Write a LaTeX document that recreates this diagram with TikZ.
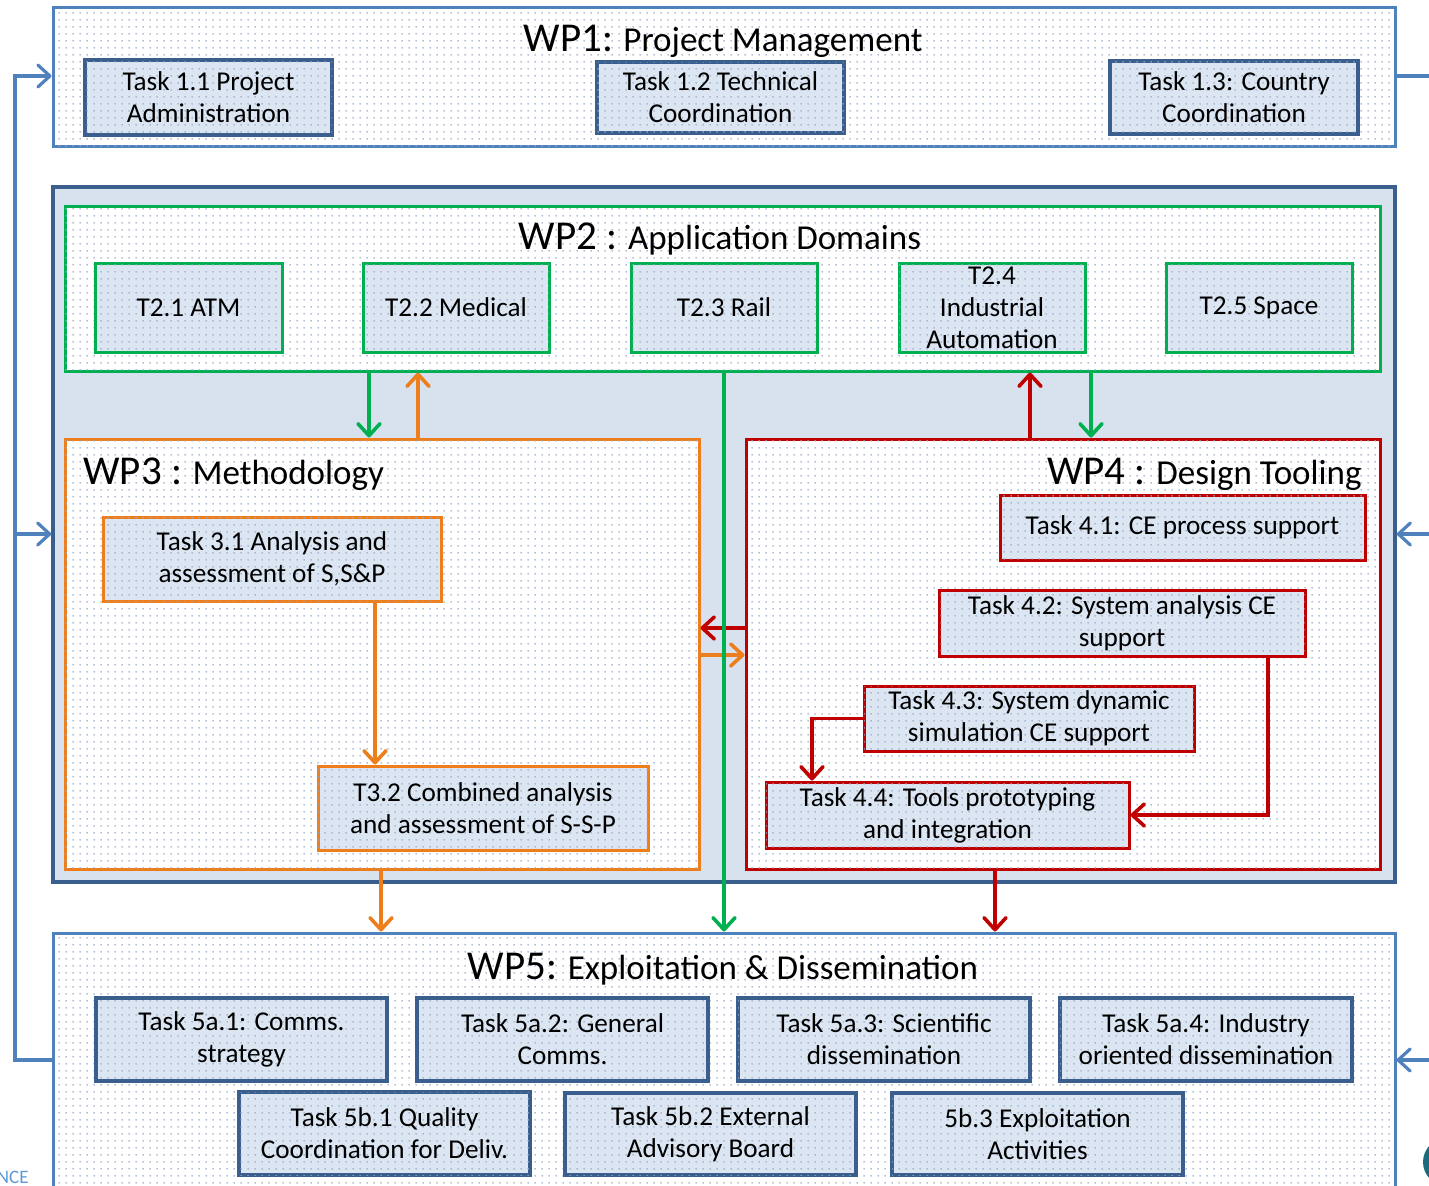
\documentclass[tikz,border=0pt]{standalone}
\usepackage{fontspec}
\setmainfont{Carlito}
\usetikzlibrary{arrows.meta,fit,patterns.meta}

\definecolor{wpblue}{HTML}{4F81BD}
\definecolor{navy}{HTML}{3A5F8E}
\definecolor{taskfill}{HTML}{DCE6F2}
\definecolor{corefill}{HTML}{D8E2EF}
\definecolor{grn}{HTML}{00B050}
\definecolor{org}{HTML}{EE7E1C}
\definecolor{rd}{HTML}{C00000}
\definecolor{dotc}{HTML}{98ABC4}
\definecolor{ncec}{HTML}{5B9BD5}
\definecolor{tealc}{HTML}{1B6A7E}

% sparse dot texture used inside the boxes
\tikzdeclarepattern{
  name=pxdots,
  type=uncolored,
  bottom left={(0pt,0pt)},
  top right={(3.5pt,3.5pt)},
  tile size={(3.5pt,3.5pt)},
  code={\fill (1.75pt,1.75pt) circle (0.5pt);}
}

\newcommand\wpbig{\fontsize{20.5}{24}\selectfont}
\newcommand\wpsmall{\fontsize{17.5}{21}\selectfont}

\tikzset{
  dotfill/.style={fill=#1, postaction={pattern=pxdots, pattern color=dotc}},
  wpbox/.style={draw=#1, line width=1.5pt, dotfill=white, inner sep=0pt},
  taskbox/.style={draw=#1, line width=1.5pt, dotfill=taskfill, inner sep=0pt},
  navytask/.style={taskbox=navy, line width=2pt},
  tasktext/.style={align=center, inner sep=0pt, font=\fontsize{13.6}{16}\selectfont},
  wptitle/.style={inner sep=0pt, font=\wpsmall},
  tiptype/.style={-{Straight Barb[length=6pt,width=11pt,round]}},
  arr/.style={draw=#1, line width=1.8pt, tiptype},
  bline/.style={draw=wpblue, line width=1.6pt},
}

% a framed task: style, name, corner pair, text (centred in the frame)
\newcommand\tbox[4]{%
  \node[#1, fit={#3}] (#2) {};
  \node[tasktext] (#2-t) at (#2.center) {#4};}

\begin{document}
\begin{tikzpicture}[x=0.5pt,y=-0.5pt]
\useasboundingbox (0,0) rectangle (1429,1185);
\clip (0,0) rectangle (1429,1185);

% ---------- WP1 ----------
\node[wpbox=wpblue, fit={(53,7)(1395,146)}] (wp1) {};
\node[wptitle] (wp1t) at (723,41) {{\wpbig WP1:} Project Management};
\tbox{navytask}{t11}{(85,60)(332,135)}{Task 1.1 Project\\Administration}
\tbox{navytask}{t12}{(597,62)(844,133)}{Task 1.2 Technical\\Coordination}
\tbox{navytask}{t13}{(1110,61)(1358,134)}{Task 1.3: Country\\Coordination}

% ---------- WP2-WP4 container ----------
\node[draw=navy, line width=1.75pt, fill=corefill, inner sep=0pt, fit={(53,187)(1395,882)}] (core) {};

% ---------- WP2 ----------
\node[wpbox=grn, fit={(65,206)(1380,371)}] (wp2) {};
\node[wptitle] (wp2t) at (720,239) {{\wpbig WP2 :} Application Domains};
\tbox{taskbox=grn}{t21}{(95,263)(282,352)}{T2.1 ATM}
\tbox{taskbox=grn}{t22}{(363,263)(549,352)}{T2.2 Medical}
\tbox{taskbox=grn}{t23}{(631,263)(817,352)}{T2.3 Rail}
\tbox{taskbox=grn}{t24}{(899,263)(1085,352)}{T2.4\\Industrial\\Automation}
\tbox{taskbox=grn}{t25}{(1166,263)(1352,352)}{T2.5 Space}

% ---------- WP3 ----------
\node[wpbox=org, fit={(65,439)(699,869)}] (wp3) {};
\node[wptitle, anchor=west] (wp3t) at (83,474) {{\wpbig WP3 :} Methodology};
\tbox{taskbox=org}{t31}{(103,517)(441,601)}{Task 3.1 Analysis and\\assessment of S,S\&P}
\tbox{taskbox=org}{t32}{(318,766)(648,850)}{T3.2 Combined analysis\\and assessment of S-S-P}

% ---------- WP4 ----------
\node[wpbox=rd, fit={(746,439)(1380,869)}] (wp4) {};
\node[wptitle, anchor=east] (wp4t) at (1362,474) {{\wpbig WP4 :} Design Tooling};
\tbox{taskbox=rd}{t41}{(1000,495)(1365,560)}{Task 4.1: CE process support}
\tbox{taskbox=rd}{t42}{(939,590)(1305,656)}{Task 4.2: System analysis CE\\support}
\tbox{taskbox=rd}{t43}{(864,686)(1194,751)}{Task 4.3: System dynamic\\simulation CE support}
\tbox{taskbox=rd}{t44}{(766,782)(1129,848)}{Task 4.4: Tools prototyping\\and integration}

% ---------- WP5 ----------
\node[wpbox=wpblue, fit={(53,933)(1395,1215)}] (wp5) {};
\node[wptitle] (wp5t) at (723,969) {{\wpbig WP5:} Exploitation \& Dissemination};
\tbox{navytask}{t5a1}{(96,998)(387,1081)}{Task 5a.1: Comms.\\strategy}
\tbox{navytask}{t5a2}{(417,998)(708,1081)}{Task 5a.2: General\\Comms.}
\tbox{navytask}{t5a3}{(738,998)(1030,1081)}{Task 5a.3: Scientific\\dissemination}
\tbox{navytask}{t5a4}{(1060,998)(1352,1081)}{Task 5a.4: Industry\\oriented dissemination}
\tbox{navytask}{t5b1}{(239,1092)(530,1175)}{Task 5b.1 Quality\\Coordination for Deliv.}
\tbox{navytask}{t5b2}{(565,1093)(856,1175)}{Task 5b.2 External\\Advisory Board}
\tbox{navytask}{t5b3}{(892,1093)(1183,1175)}{5b.3 Exploitation\\Activities}

% ---------- guide coordinates for connector columns / rows ----------
\coordinate (xa) at (369,0);
\coordinate (xb) at (418,0);
\coordinate (xc) at (1030,0);
\coordinate (xd) at (1091,0);
\coordinate (xe) at (724,0);
\coordinate (xf) at (381,0);
\coordinate (xg) at (995,0);
\coordinate (xh) at (375,0);
\coordinate (xi) at (812,0);
\coordinate (xj) at (1268,0);
\coordinate (lx) at (15,0);
\coordinate (rx) at (1432,0);
\coordinate (ya) at (0,76);
\coordinate (yb) at (0,534);
\coordinate (yc) at (0,1060);
\coordinate (yd) at (0,628);
\coordinate (ye) at (0,655);

% ---------- connectors inside the core ----------
\draw[arr=grn] (xa |- wp2.south) -- (xa |- wp3.north);
\draw[arr=org] (xb |- wp3.north) -- (xb |- wp2.south);
\draw[arr=rd]  (xc |- wp4.north) -- (xc |- wp2.south);
\draw[arr=grn] (xd |- wp2.south) -- (xd |- wp4.north);
\draw[arr=rd]  (yd -| wp4.west) -- (yd -| wp3.east);
\draw[arr=org] (ye -| wp3.east) -- (ye -| wp4.west);
\draw[arr=org] (xh |- t31.south) -- (xh |- t32.north);
\draw[arr=rd]  (t43.west) -| (xi |- t44.north);
\draw[arr=rd]  (xj |- t42.south) |- (t44.east);

% ---------- connectors to WP5 ----------
\draw[arr=grn] (xe |- wp2.south) -- (xe |- wp5.north);
\draw[arr=org] (xf |- wp3.south) -- (xf |- wp5.north);
\draw[arr=rd]  (xg |- wp4.south) -- (xg |- wp5.north);

% ---------- management feedback loops ----------
\draw[bline, tiptype] (yc -| wp5.west) -| (ya -| lx) -- (ya -| wp1.west);
\draw[bline, tiptype] (yb -| lx) -- (yb -| core.west);
\draw[bline] (ya -| wp1.east) -- (ya -| rx);
\draw[bline, tiptype] (yb -| rx) -- (yb -| core.east);
\draw[bline, tiptype] (yc -| rx) -- (yc -| wp5.east);

% ---------- page remnants at the bottom corners ----------
\node[anchor=east, inner sep=0pt, text=ncec, font=\fontsize{9.5}{11}\selectfont] (nce) at (29,1177) {NCE};
\fill[tealc] (1447,1162) circle (24);
\end{tikzpicture}
\end{document}
